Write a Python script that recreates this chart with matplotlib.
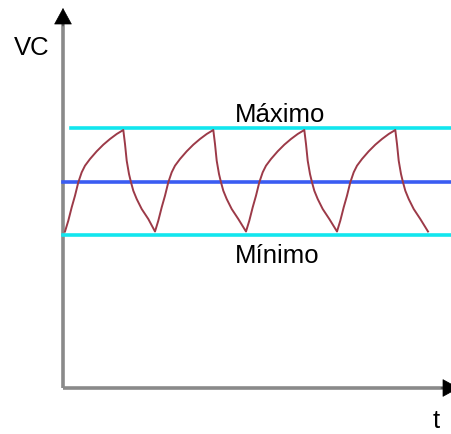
import matplotlib
matplotlib.use('Agg')
import matplotlib.pyplot as plt

plt.rcParams['font.family'] = ['Liberation Sans', 'DejaVu Sans']

# capacitor voltage (t, VC in arbitrary units)
t = [2, 5.3, 8.7, 12, 15.3, 18.7, 22, 27, 33.7, 40.3, 47, 53.7, 60.3,
     62, 63.7, 66, 68, 70.3, 73.7, 78.7, 85.3,
     92, 95.3, 98.7, 102, 105.3, 108.7, 112, 117, 123.7, 130.3, 137, 143.7, 150.3,
     152, 153.7, 156, 158, 160.3, 163.7, 168.7, 175.3,
     183, 186.3, 189.7, 193, 196.3, 199.7, 203, 208, 214.7, 221.3, 228, 234.7, 241.3,
     243, 244.7, 247, 249, 251.3, 254.7, 259.7, 266.3,
     274, 277.3, 280.7, 284, 287.3, 290.7, 294, 299, 305.7, 312.3, 319, 325.7, 332.3,
     334, 335.7, 338, 340, 342.3, 345.7, 350.7, 357.3, 365]
vc = [156.5, 167.3, 180.7, 192.3, 205.7, 215.7, 222.3, 229, 236.7, 243.3, 249, 254, 258,
      244, 227.3, 214, 205.7, 197.3, 189, 179, 169,
      156.5, 167.3, 180.7, 192.3, 205.7, 215.7, 222.3, 229, 236.7, 243.3, 249, 254, 258,
      244, 227.3, 214, 205.7, 197.3, 189, 179, 169,
      156.5, 167.3, 180.7, 192.3, 205.7, 215.7, 222.3, 229, 236.7, 243.3, 249, 254, 258,
      244, 227.3, 214, 205.7, 197.3, 189, 179, 169,
      156.5, 167.3, 180.7, 192.3, 205.7, 215.7, 222.3, 229, 236.7, 243.3, 249, 254, 258,
      244, 227.3, 214, 205.7, 197.3, 189, 179, 169, 156.5]

v_max = 260
v_mid = 205.7
v_min = 153.5
labels = ['Máximo', 'Mínimo']

fig = plt.figure(figsize=(4.52, 4.34), dpi=100)
ax = fig.add_axes([0, 0, 1, 1])
ax.set_xlim(-63, 389)
ax.set_ylim(-46, 388)
ax.axis('off')

# reference levels
ax.plot([8, 389], [v_max, v_max], color='#12e6ee', lw=2.6, zorder=2)
ax.plot([0, 389], [v_mid, v_mid], color='#3a5cf2', lw=2.6, zorder=2)
ax.plot([0, 389], [v_min, v_min], color='#12e6ee', lw=2.6, zorder=2)

# the charge / discharge curve
ax.plot(t, vc, color='#9c3a48', lw=1.4, solid_joinstyle='round', zorder=3)

# axes with arrows
ax.plot([0, 0], [0, 366], color='#8a8a8a', lw=2.6, solid_capstyle='butt', zorder=1)
ax.plot([0, 382], [0, 0], color='#8a8a8a', lw=2.6, solid_capstyle='butt', zorder=1)
ax.annotate('', xy=(0, 380), xytext=(0, 362),
            arrowprops=dict(arrowstyle='-|>,head_length=1.1,head_width=0.6',
                            color='black', mutation_scale=10, lw=0.5,
                            shrinkA=0, shrinkB=0))
ax.annotate('', xy=(396, 0), xytext=(378, 0), annotation_clip=False,
            arrowprops=dict(arrowstyle='-|>,head_length=1.1,head_width=0.6',
                            color='black', mutation_scale=10, lw=0.5,
                            shrinkA=0, shrinkB=0))

ax.text(172, 266, labels[0], fontsize=18.5, ha='left', va='baseline')
ax.text(172, 125, labels[1], fontsize=18.5, ha='left', va='baseline')
ax.text(-49, 333, 'VC', fontsize=18.5, ha='left', va='baseline')
ax.text(370, -40, 't', fontsize=18.5, ha='left', va='baseline')

fig.savefig('out.png', dpi=100)
